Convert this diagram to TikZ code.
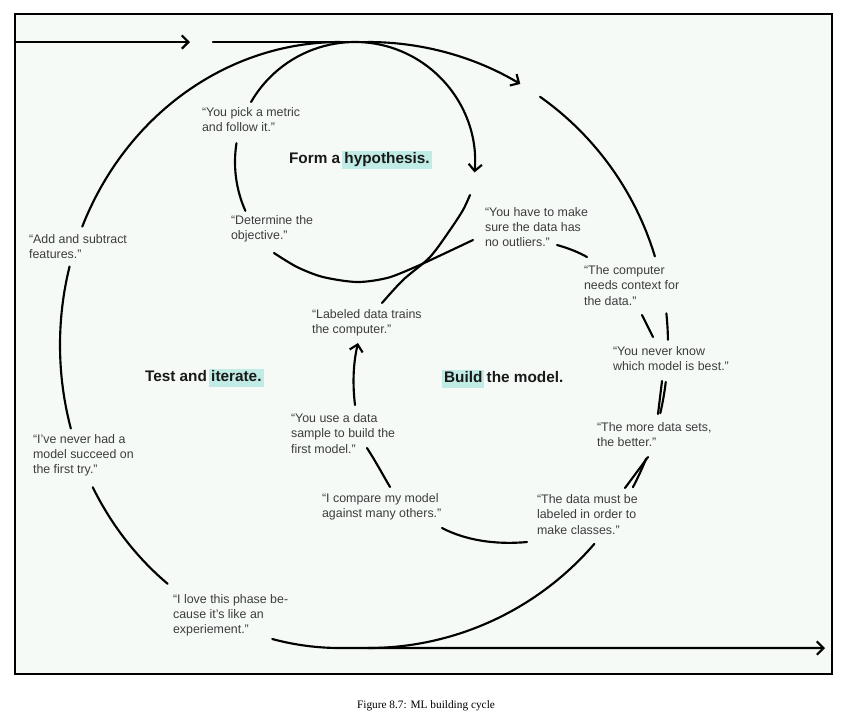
\documentclass[tikz,border=0pt]{standalone}
\usepackage{fontspec}
\setmainfont{Liberation Serif}
\setsansfont{Liberation Sans}
\usetikzlibrary{arrows.meta}
\definecolor{paper}{RGB}{246,250,247}
\definecolor{hlteal}{RGB}{192,236,229}
\definecolor{quotegray}{RGB}{60,60,60}
\tikzset{
  every picture/.style={line width=1.6pt},
  cycleline/.style={line width=1.6pt, line cap=round},
  barbtip/.style={-{Straight Barb[length=5pt,width=10pt]}},
  quotetext/.style={anchor=west, align=left, inner sep=0pt,
    font=\sffamily\fontsize{9.3}{11.3}\selectfont, text=quotegray},
  phasetext/.style={anchor=west, inner sep=0pt,
    font=\sffamily\bfseries\fontsize{11.5}{14}\selectfont, text=black!90}
}
\newcommand{\hlbox}[1]{{\setlength{\fboxsep}{1.5pt}\hspace*{-\fboxsep}\colorbox{hlteal}{\vphantom{Ay}#1}\hspace*{-\fboxsep}}}

\begin{document}
\begin{tikzpicture}[x=0.75pt, y=-0.75pt]
    \useasboundingbox (0,0) rectangle (853,719);

    % frame
    \fill[paper] (15,14) rectangle (832,674);
    \draw[line width=1.5pt] (15,14) rectangle (832,674);

    % centres of the loops
    \coordinate (cL) at (340,345);
    \coordinate (cR) at (368,345);
    \coordinate (cH) at (355,162);

    % entry line
    \draw[cycleline, barbtip] (15,42) -- (190,42);
    \draw[cycleline] (213,42) -- (368,42);

    % outer loop, left side
    \draw[cycleline] (cL) ++(270:280 and 303) arc[start angle=270, end angle=203, x radius=280, y radius=303];
    \draw[cycleline] (cL) ++(195:280 and 303) arc[start angle=195, end angle=164, x radius=280, y radius=303];
    \draw[cycleline] (cL) ++(152:280 and 303) arc[start angle=152, end angle=128, x radius=280, y radius=303];
    \draw[cycleline, barbtip] (cL) ++(104:280 and 303) arc[start angle=104, end angle=90, x radius=280, y radius=303] -- (825,648);

    % outer loop, right side
    \draw[cycleline, barbtip] (cR) ++(270:300 and 303) arc[start angle=270, end angle=300.5, x radius=300, y radius=303];
    \draw[cycleline] (cR) ++(305:300 and 303) arc[start angle=305, end angle=343, x radius=300, y radius=303];
    \draw[cycleline] (cR) ++(354:300 and 303) arc[start angle=354, end angle=359, x radius=300, y radius=303];
    \draw[cycleline] (cR) ++(7:300 and 303) arc[start angle=7, end angle=13, x radius=300, y radius=303];
    \draw[cycleline] (cR) ++(22:300 and 303) arc[start angle=22, end angle=28, x radius=300, y radius=303];
    \draw[cycleline] (cR) ++(41:300 and 303) arc[start angle=41, end angle=90, x radius=300, y radius=303];

    % hypothesis loop
    \draw[cycleline, barbtip] (cH) ++(210:120) arc[start angle=210, end angle=365, radius=120];
    \draw[cycleline] (cH) ++(189:120) arc[start angle=189, end angle=156, radius=120];
    \draw[cycleline] plot[smooth] coordinates {(274,253) (297,267) (323,277) (357,282) (387,278) (413,268) (437,257) (473,240)};
    \draw[cycleline] plot[smooth] coordinates {(382,303) (403,280) (430,257) (450,230) (463,210) (470,195)};

    % build loop
    \draw[cycleline] (557,245) .. controls (568,248) and (578,252) .. (587,257);
    \draw[cycleline] (642,315) -- (653,337);
    \draw[cycleline] (662,381) -- (658,414);
    \draw[cycleline] (648,457) -- (625,488);
    \draw[cycleline] (442,528) .. controls (465,540) and (495,545) .. (527,542);
    \draw[cycleline] (367,448) .. controls (376,462) and (383,475) .. (390,487);
    \draw[cycleline, barbtip] (355,405) .. controls (352,380) and (354,360) .. (358,343);

    % phase titles
    \node[phasetext] (form) at (288,160) {Form a \hlbox{hypothesis.}};
    \node[phasetext] (test) at (144,378) {Test and \hlbox{iterate.}};
    \node[phasetext] (build) at (443,379) {\hlbox{Build} the model.};

    % quotes
    \node[quotetext] (metric) at (201,119.5) {“You pick a metric\\and follow it.”};
    \node[quotetext] (objective) at (230,228.5) {“Determine the\\objective.”};
    \node[quotetext] (features) at (28,246.5) {“Add and subtract\\features.”};
    \node[quotetext] (outliers) at (484,227) {“You have to make\\sure the data has\\no outliers.”};
    \node[quotetext] (context) at (583,285.5) {“The computer\\needs context for\\the data.”};
    \node[quotetext] (trains) at (311,323) {“Labeled data trains\\the computer.”};
    \node[quotetext] (neverknow) at (612,358.5) {“You never know\\which model is best.”};
    \node[quotetext] (sample) at (290,433.5) {“You use a data\\sample to build the\\first model.”};
    \node[quotetext] (firsttry) at (32,455) {“I’ve never had a\\model succeed on\\the first try.”};
    \node[quotetext] (datasets) at (596,434.5) {“The more data sets,\\the better.”};
    \node[quotetext] (compare) at (321,506.5) {“I compare my model\\against many others.”};
    \node[quotetext] (classes) at (536,514.5) {“The data must be\\labeled in order to\\make classes.”};
    \node[quotetext] (experiment) at (172,615) {“I love this phase be-\\cause it’s like an\\experiement.”};

    % caption
    \node[font=\rmfamily\fontsize{8.5}{10}\selectfont] (caption) at (426,706) {Figure 8.7: ML building cycle};
\end{tikzpicture}
\end{document}
